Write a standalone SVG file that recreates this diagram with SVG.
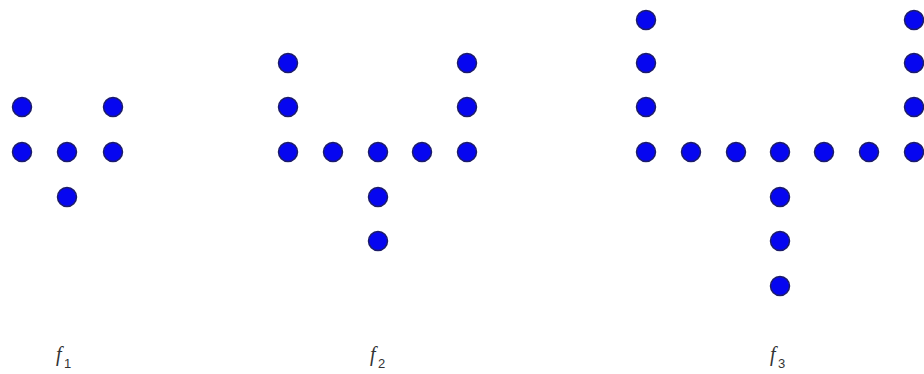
<svg xmlns="http://www.w3.org/2000/svg" width="924" height="374" viewBox="0 0 924 374">
<style>
.d{fill:#0606f0;stroke:#1c1c6a;stroke-width:1.5}
.t{font-family:"Liberation Serif",serif;font-style:italic;font-size:20px;fill:#333}
.s{font-family:"Liberation Sans",sans-serif;font-size:13px;fill:#333}
</style>
<rect width="924" height="374" fill="#fff"/>
<g id="f1">
<circle class="d" cx="22" cy="107" r="9.5"/><circle class="d" cx="113" cy="107" r="9.5"/>
<circle class="d" cx="22" cy="152" r="9.5"/><circle class="d" cx="67" cy="152" r="9.5"/><circle class="d" cx="113" cy="152" r="9.5"/>
<circle class="d" cx="67" cy="197" r="9.5"/>
<text class="t" x="56" y="361">f</text><text class="s" x="64" y="368">1</text>
</g>
<g id="f2">
<circle class="d" cx="288" cy="63" r="9.5"/><circle class="d" cx="288" cy="107" r="9.5"/>
<circle class="d" cx="288" cy="152" r="9.5"/><circle class="d" cx="333" cy="152" r="9.5"/><circle class="d" cx="378" cy="152" r="9.5"/><circle class="d" cx="422" cy="152" r="9.5"/><circle class="d" cx="467" cy="152" r="9.5"/>
<circle class="d" cx="467" cy="107" r="9.5"/><circle class="d" cx="467" cy="63" r="9.5"/>
<circle class="d" cx="378" cy="197" r="9.5"/><circle class="d" cx="378" cy="241" r="9.5"/>
<text class="t" x="370" y="361">f</text><text class="s" x="378" y="368">2</text>
</g>
<g id="f3">
<circle class="d" cx="646" cy="20" r="9.5"/><circle class="d" cx="646" cy="63" r="9.5"/><circle class="d" cx="646" cy="107" r="9.5"/>
<circle class="d" cx="646" cy="152" r="9.5"/><circle class="d" cx="691" cy="152" r="9.5"/><circle class="d" cx="736" cy="152" r="9.5"/><circle class="d" cx="780" cy="152" r="9.5"/><circle class="d" cx="824" cy="152" r="9.5"/><circle class="d" cx="869" cy="152" r="9.5"/><circle class="d" cx="914" cy="152" r="9.5"/>
<circle class="d" cx="914" cy="107" r="9.5"/><circle class="d" cx="914" cy="63" r="9.5"/><circle class="d" cx="914" cy="20" r="9.5"/>
<circle class="d" cx="780" cy="197" r="9.5"/><circle class="d" cx="780" cy="241" r="9.5"/><circle class="d" cx="780" cy="286" r="9.5"/>
<text class="t" x="770" y="361">f</text><text class="s" x="778" y="368">3</text>
</g>
<g id="connectors"/>
</svg>
